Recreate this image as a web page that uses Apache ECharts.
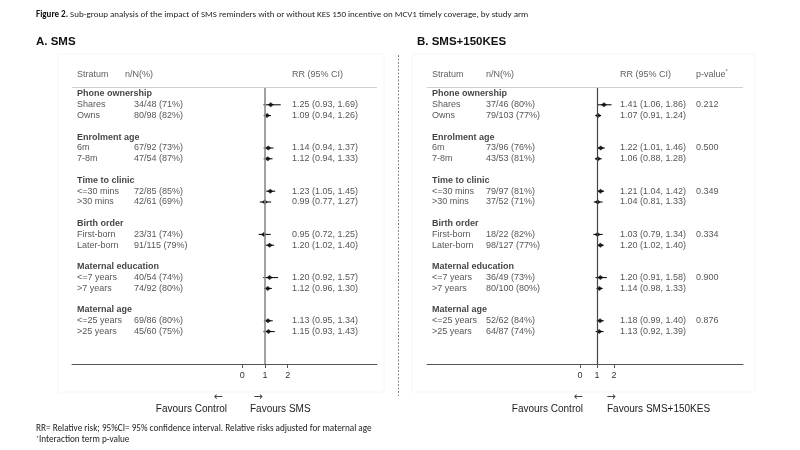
<!DOCTYPE html>
<html><head><meta charset="utf-8">
<script src="https://cdn.jsdelivr.net/npm/echarts@6/dist/echarts.min.js"></script>
<style>html,body{margin:0;padding:0;background:#fff}#c{width:800px;height:450px}</style>
</head><body><div id="c"></div>
<script>
// ---------- data ----------
const groups = ['Phone ownership','Enrolment age','Time to clinic','Birth order','Maternal education','Maternal age'];
const strata = ['Shares','Owns','6m','7-8m','<=30 mins','>30 mins','First-born','Later-born','<=7 years','>7 years','<=25 years','>25 years'];

const smsN  = ['34/48 (71%)','80/98 (82%)','67/92 (73%)','47/54 (87%)','72/85 (85%)','42/61 (69%)','23/31 (74%)','91/115 (79%)','40/54 (74%)','74/92 (80%)','69/86 (80%)','45/60 (75%)'];
const smsRR = [1.25,1.09,1.14,1.12,1.23,0.99,0.95,1.20,1.20,1.12,1.13,1.15];
const smsLo = [0.93,0.94,0.94,0.94,1.05,0.77,0.72,1.02,0.92,0.96,0.95,0.93];
const smsHi = [1.69,1.26,1.37,1.33,1.45,1.27,1.25,1.40,1.57,1.30,1.34,1.43];

const kesN  = ['37/46 (80%)','79/103 (77%)','73/96 (76%)','43/53 (81%)','79/97 (81%)','37/52 (71%)','18/22 (82%)','98/127 (77%)','36/49 (73%)','80/100 (80%)','52/62 (84%)','64/87 (74%)'];
const kesRR = [1.41,1.07,1.22,1.06,1.21,1.04,1.03,1.20,1.20,1.14,1.18,1.13];
const kesLo = [1.06,0.91,1.01,0.88,1.04,0.81,0.79,1.02,0.91,0.98,0.99,0.92];
const kesHi = [1.86,1.24,1.46,1.28,1.42,1.33,1.34,1.40,1.58,1.33,1.40,1.39];
const kesP  = ['0.212','0.500','0.349','0.334','0.900','0.876'];

const tickValues = [0, 1, 2];

// ---------- layout ----------
const FONT = '"Liberation Sans", Arial, Helvetica, sans-serif';
const NOTE_FONT = 'Carlito, Calibri, Lato, sans-serif';
const Y_MIN = -2.5, Y_MAX = 25, HEAD_ROW = -1.85, LINE_ROW = -0.65;

function rowOf(k){ return Math.floor(k/2)*4 + 1 + (k % 2); }
function fmtRR(r,l,h){ return r.toFixed(2)+' ('+l.toFixed(2)+', '+h.toFixed(2)+')'; }

const panels = [
  {left:72, width:305, xmin:-7.5, xmax:5.93, refColor:'#8a8a8a', refWidth:1.6,
   cols:{stratum:5, nHead:53, n:62, rr:220, p:null},
   N:smsN, RR:smsRR, Lo:smsLo, Hi:smsHi, P:null},
  {left:427, width:316, xmin:-9, xmax:9.59, refColor:'#444', refWidth:1.2,
   cols:{stratum:5, nHead:59, n:59, rr:193, p:269},
   N:kesN, RR:kesRR, Lo:kesLo, Hi:kesHi, P:kesP}
];

const grid = [], xAxis = [], yAxis = [], series = [];
const textStyleBase = {fontFamily:FONT, fontSize:9, color:'#2a2a2a'};

function textSeries(gi, xi, yi, data, extra){
  return {
    type:'scatter', xAxisIndex:xi, yAxisIndex:yi, symbolSize:0.1, silent:true,
    itemStyle:{color:'rgba(0,0,0,0)'}, emphasis:{disabled:true}, clip:false,
    label:Object.assign({show:true, position:'right', distance:0, formatter:p=>p.data[2]}, textStyleBase, extra||{}),
    data:data, z:5
  };
}

panels.forEach((P, gi) => {
  grid.push({left:P.left, width:P.width, top:67, bottom:86, containLabel:false});
  const fx = xAxis.length;
  xAxis.push({
    type:'value', gridIndex:gi, min:P.xmin, max:P.xmax, position:'bottom',
    axisLine:{show:true, onZero:false, lineStyle:{color:'#555', width:1}},
    axisTick:{show:true, customValues:tickValues, length:4, lineStyle:{color:'#555'}},
    axisLabel:{show:true, customValues:tickValues, fontFamily:FONT, fontSize:9, color:'#333', margin:7},
    splitLine:{show:false}
  });
  const tx = xAxis.length;
  xAxis.push({type:'value', gridIndex:gi, min:0, max:P.width, show:false, splitLine:{show:false}});
  yAxis.push({type:'value', gridIndex:gi, inverse:true, min:Y_MIN, max:Y_MAX, show:false, splitLine:{show:false}});
  const yi = gi;

  // confidence intervals
  series.push({
    type:'custom', xAxisIndex:fx, yAxisIndex:yi, silent:true,
    data: strata.map((s,k)=>[P.Lo[k], P.Hi[k], rowOf(k)]),
    renderItem:(params, api)=>{
      const a = api.coord([api.value(0), api.value(2)]);
      const b = api.coord([api.value(1), api.value(2)]);
      return {type:'line', shape:{x1:a[0], y1:a[1], x2:b[0], y2:b[1]}, style:{stroke:'#000', lineWidth:1}};
    },
    z:3
  });
  // point estimates + reference lines
  series.push({
    type:'scatter', xAxisIndex:fx, yAxisIndex:yi, symbol:'diamond', symbolSize:[6,5],
    itemStyle:{color:'#000'}, emphasis:{disabled:true}, silent:true,
    data: strata.map((s,k)=>[P.RR[k], rowOf(k)]),
    markLine:{
      silent:true, symbol:'none', animation:false, label:{show:false},
      data:[
        [{coord:[1, LINE_ROW], lineStyle:{color:P.refColor, width:P.refWidth, type:'solid'}}, {coord:[1, Y_MAX]}],
        [{coord:[P.xmin, LINE_ROW], lineStyle:{color:'#cfcfcf', width:1, type:'solid'}}, {coord:[P.xmax, LINE_ROW]}]
      ]
    },
    z:4
  });
  // column headers
  const heads = [[P.cols.stratum, HEAD_ROW, 'Stratum'], [P.cols.nHead, HEAD_ROW, 'n/N(%)'], [P.cols.rr, HEAD_ROW, 'RR (95% CI)']];
  series.push(textSeries(gi, tx, yi, heads, {color:'#333'}));
  if (P.cols.p !== null) {
    series.push(textSeries(gi, tx, yi, [[P.cols.p, HEAD_ROW, 'p-value{s|*}']],
      {color:'#333', rich:{s:{fontFamily:FONT, fontSize:5.5, color:'#333', padding:[0,0,5,0]}}}));
  }
  // group headings
  series.push(textSeries(gi, tx, yi, groups.map((g,i)=>[P.cols.stratum, i*4, g]), {fontWeight:'bold', color:'#111'}));
  // strata
  series.push(textSeries(gi, tx, yi, strata.map((s,k)=>[P.cols.stratum, rowOf(k), s])));
  // n/N
  series.push(textSeries(gi, tx, yi, strata.map((s,k)=>[P.cols.n, rowOf(k), P.N[k]])));
  // RR (CI)
  series.push(textSeries(gi, tx, yi, strata.map((s,k)=>[P.cols.rr, rowOf(k), fmtRR(P.RR[k], P.Lo[k], P.Hi[k])])));
  // p-values
  if (P.P) {
    series.push(textSeries(gi, tx, yi, P.P.map((p,i)=>[P.cols.p, i*4+1, p])));
  }
});

const favStyle = {fontFamily:FONT, fontSize:10, fill:'#222'};
const arrowStyle = {fontFamily:'"DejaVu Sans", sans-serif', fontSize:11, fill:'#444'};
const graphic = [
  {type:'rect', shape:{x:58, y:54, width:326, height:338}, style:{fill:'none', stroke:'#f6f6f6', lineWidth:1}, silent:true, z:-1},
  {type:'rect', shape:{x:412, y:54, width:343, height:338}, style:{fill:'none', stroke:'#f6f6f6', lineWidth:1}, silent:true, z:-1},
  {type:'line', shape:{x1:398.5, y1:55, x2:398.5, y2:396}, style:{stroke:'#8a8a8a', lineWidth:1, lineDash:[2,1.5]}, silent:true},
  {type:'text', x:36, y:15, style:{text:'{b|Figure 2.} Sub-group analysis of the impact of SMS reminders with or without KES 150 incentive on MCV1 timely coverage, by study arm',
     fontFamily:NOTE_FONT, fontSize:9, fill:'#222', verticalAlign:'middle',
     rich:{b:{fontFamily:NOTE_FONT, fontSize:9, fontWeight:'bold', fill:'#111'}}}},
  {type:'text', x:36, y:42, style:{text:'A. SMS', fontFamily:FONT, fontSize:11.5, fontWeight:'bold', fill:'#111', verticalAlign:'middle'}},
  {type:'text', x:417, y:42, style:{text:'B. SMS+150KES', fontFamily:FONT, fontSize:11.5, fontWeight:'bold', fill:'#111', verticalAlign:'middle'}},
  // left panel direction labels
  {type:'text', x:218, y:397, style:Object.assign({text:'\u2190', align:'center', verticalAlign:'middle'}, arrowStyle)},
  {type:'text', x:258, y:397, style:Object.assign({text:'\u2192', align:'center', verticalAlign:'middle'}, arrowStyle)},
  {type:'text', x:227, y:409, style:Object.assign({text:'Favours Control', align:'right', verticalAlign:'middle'}, favStyle)},
  {type:'text', x:250, y:409, style:Object.assign({text:'Favours SMS', align:'left', verticalAlign:'middle'}, favStyle)},
  // right panel direction labels
  {type:'text', x:578, y:397, style:Object.assign({text:'\u2190', align:'center', verticalAlign:'middle'}, arrowStyle)},
  {type:'text', x:611, y:397, style:Object.assign({text:'\u2192', align:'center', verticalAlign:'middle'}, arrowStyle)},
  {type:'text', x:583, y:409, style:Object.assign({text:'Favours Control', align:'right', verticalAlign:'middle'}, favStyle)},
  {type:'text', x:607, y:409, style:Object.assign({text:'Favours SMS+150KES', align:'left', verticalAlign:'middle'}, favStyle)},
  // footnotes
  {type:'text', x:36, y:429, style:{text:'RR= Relative risk; 95%CI= 95% confidence interval. Relative risks adjusted for maternal age', fontFamily:NOTE_FONT, fontSize:9.2, fill:'#222', verticalAlign:'middle'}},
  {type:'text', x:36, y:440, style:{text:'{s|*}Interaction term p-value', fontFamily:NOTE_FONT, fontSize:9.2, fill:'#222', verticalAlign:'middle',
     rich:{s:{fontFamily:NOTE_FONT, fontSize:6, fill:'#222', padding:[0,0,4,0]}}}}
];

const chart = echarts.init(document.getElementById('c'), null, {renderer:'canvas'});
chart.setOption({
  animation:false,
  backgroundColor:'#fff',
  grid, xAxis, yAxis, series, graphic
});
</script>
</body></html>
